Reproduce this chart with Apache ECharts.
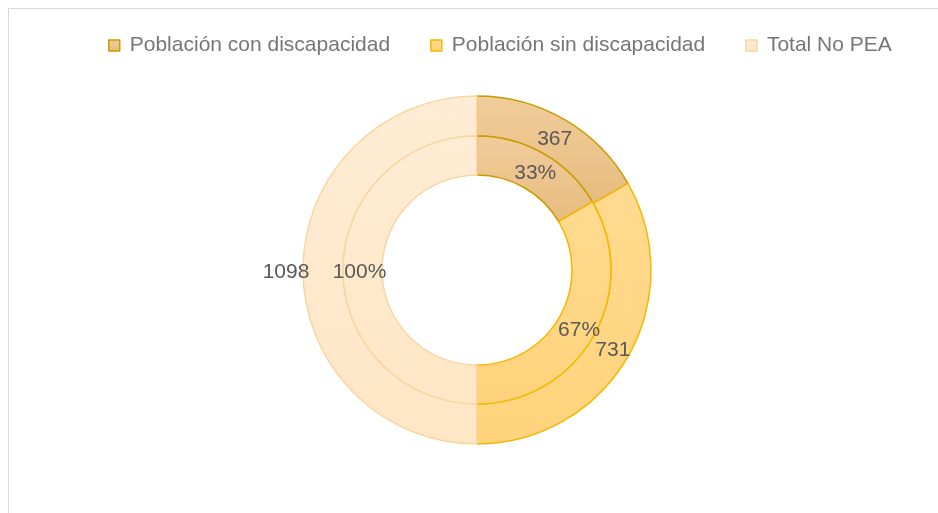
<!DOCTYPE html>
<html>
<head>
<meta charset="utf-8">
<script src="https://cdn.jsdelivr.net/npm/echarts@6/dist/echarts.min.js"></script>
<style>
    html, body { margin: 0; padding: 0; background: #fff; }
    #chart { width: 938px; height: 513px; }
</style>
</head>
<body>
<div id="chart"></div>
<script>
// datos del gráfico
var categories = ['Población con discapacidad', 'Población sin discapacidad', 'Total No PEA'];
var outerValues = [367, 731, 1098];
var innerValues = [33, 67, 100];

var fills = [
    ['#F1CD9C', '#E7BB7E'],
    ['#FFDA8F', '#FFD37C'],
    ['#FFECD4', '#FFE6C6']
];
var borders = ['#C99C00', '#F5B800', '#F8D6A2'];
// desplazamiento de etiquetas (como en el original de Excel)
var outerOffsets = [[-1, 5], [0, 2], [-34, 2]];
var innerOffsets = [[0, 5], [0, 2], [0, 2]];

function makeData(values, offsets) {
    return values.map(function (v, i) {
        return {
            name: categories[i],
            value: v,
            label: { offset: offsets[i] },
            itemStyle: {
                color: new echarts.graphic.LinearGradient(0, 0, 0, 1, [
                    { offset: 0, color: fills[i][0] },
                    { offset: 1, color: fills[i][1] }
                ]),
                borderColor: borders[i],
                borderWidth: 1.5
            }
        };
    });
}

var labelStyle = {
    show: true,
    position: 'inside',
    fontFamily: 'Liberation Sans',
    fontSize: 21,
    color: '#595959'
};

var option = {
    animation: false,
    backgroundColor: '#fff',
    graphic: [
        {
            type: 'rect',
            shape: { x: 8.5, y: 8.5, width: 940, height: 520 },
            style: { fill: 'none', stroke: '#D9D9D9', lineWidth: 1 },
            silent: true
        }
    ],
    legend: {
        left: 108,
        top: 35,
        padding: 0,
        itemWidth: 11,
        itemHeight: 11,
        itemGap: 40,
        icon: 'rect',
        itemStyle: { borderWidth: 1.5 },
        textStyle: {
            fontFamily: 'Liberation Sans',
            fontSize: 21,
            color: '#767676',
            padding: [0, 0, 0, 5]
        },
        data: categories
    },
    series: [
        {
            name: 'Total',
            type: 'pie',
            center: [477, 270],
            radius: [134, 174],
            startAngle: 90,
            clockwise: true,
            silent: true,
            avoidLabelOverlap: false,
            labelLayout: { hideOverlap: false },
            label: Object.assign({}, labelStyle, { formatter: '{c}' }),
            labelLine: { show: false },
            data: makeData(outerValues, outerOffsets)
        },
        {
            name: 'Porcentaje',
            type: 'pie',
            center: [477, 270],
            radius: [95, 134],
            startAngle: 90,
            clockwise: true,
            silent: true,
            avoidLabelOverlap: false,
            labelLayout: { hideOverlap: false },
            label: Object.assign({}, labelStyle, {
                formatter: function (p) { return p.value + '%'; }
            }),
            labelLine: { show: false },
            data: makeData(innerValues, innerOffsets)
        }
    ]
};

var myChart = echarts.init(document.getElementById('chart'));
myChart.setOption(option);
</script>
</body>
</html>
